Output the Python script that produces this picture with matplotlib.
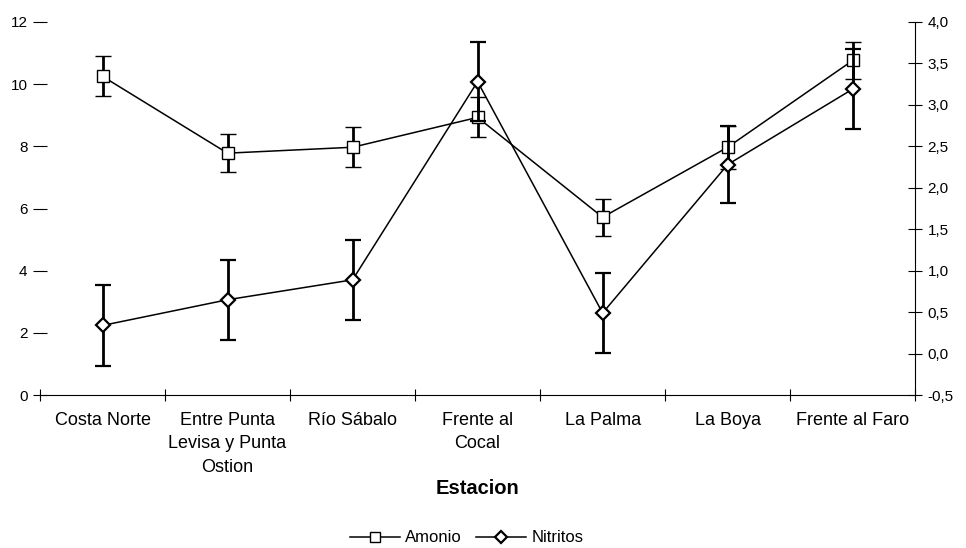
import matplotlib.pyplot as plt
import numpy as np

estaciones = ['Costa Norte', 'Entre Punta\nLevisa y Punta\nOstion', 'Río Sábalo',
              'Frente al\nCocal', 'La Palma', 'La Boya', 'Frente al Faro']
amonio = [10.25, 7.78, 7.97, 8.93, 5.72, 7.97, 10.76]
amonio_err = [0.64, 0.60, 0.64, 0.64, 0.60, 0.69, 0.61]
nitritos = [0.34, 0.65, 0.89, 3.28, 0.49, 2.28, 3.19]
nitritos_err = [0.49, 0.48, 0.48, 0.48, 0.48, 0.46, 0.48]

plt.rcParams['font.family'] = ['Liberation Sans', 'DejaVu Sans']

fig = plt.figure(figsize=(9.66, 5.48), dpi=100)
ax = fig.add_axes([0.0414, 0.279, 0.906, 0.681])
ax2 = ax.twinx()

x = np.arange(len(estaciones))

e1 = ax.errorbar(x, amonio, yerr=amonio_err, color='black', lw=1.1, marker='s', ms=8,
                 mfc='white', mec='black', mew=1.0, ecolor='black', elinewidth=2.0,
                 capsize=5.5, capthick=2.0, zorder=3)
e2 = ax2.errorbar(x, nitritos, yerr=nitritos_err, color='black', lw=1.1, marker='D', ms=7,
                  mfc='white', mec='black', mew=1.6, ecolor='black', elinewidth=2.0,
                  capsize=5.5, capthick=2.0, zorder=3)

ax.set_xlim(-0.5, 6.5)
ax.set_ylim(0, 12)
ax2.set_ylim(-0.5, 4.0)

ax.set_yticks(range(0, 13, 2))
ticks_r = np.arange(-0.5, 4.01, 0.5)
ax2.set_yticks(ticks_r)
ax2.set_yticklabels([('%.1f' % v).replace('.', ',') for v in ticks_r])

ax.set_xticks(x)
ax.set_xticklabels(estaciones, fontsize=13, linespacing=1.5)
ax.set_xticks(np.arange(-0.5, 7.0, 1.0), minor=True)
ax.tick_params(axis='x', which='major', length=0, pad=12)
ax.tick_params(axis='x', which='minor', length=8, direction='inout', width=0.8)
ax.tick_params(axis='y', length=10, direction='inout', width=0.8, labelsize=11, pad=4)
ax2.tick_params(axis='y', length=10, direction='inout', width=0.8, labelsize=11, pad=4)

for a in (ax, ax2):
    a.spines['top'].set_visible(False)
    a.spines['left'].set_visible(False)
    a.spines['bottom'].set_linewidth(0.8)
    a.spines['right'].set_linewidth(0.8)
ax.spines['right'].set_visible(False)
ax2.spines['bottom'].set_visible(False)

fig.text(0.494, 1 - 488 / 548, 'Estacion', ha='center', va='center',
         fontsize=14.5, fontweight='bold')

fig.legend([e1.lines[0], e2.lines[0]], ['Amonio', 'Nitritos'], loc='center',
           bbox_to_anchor=(0.483, 1 - 538 / 548), ncol=2, frameon=False, fontsize=12,
           handlelength=3.0, columnspacing=0.9, handletextpad=0.3, markerscale=0.9,
           borderpad=0.1)

fig.savefig('out.png', dpi=100)
